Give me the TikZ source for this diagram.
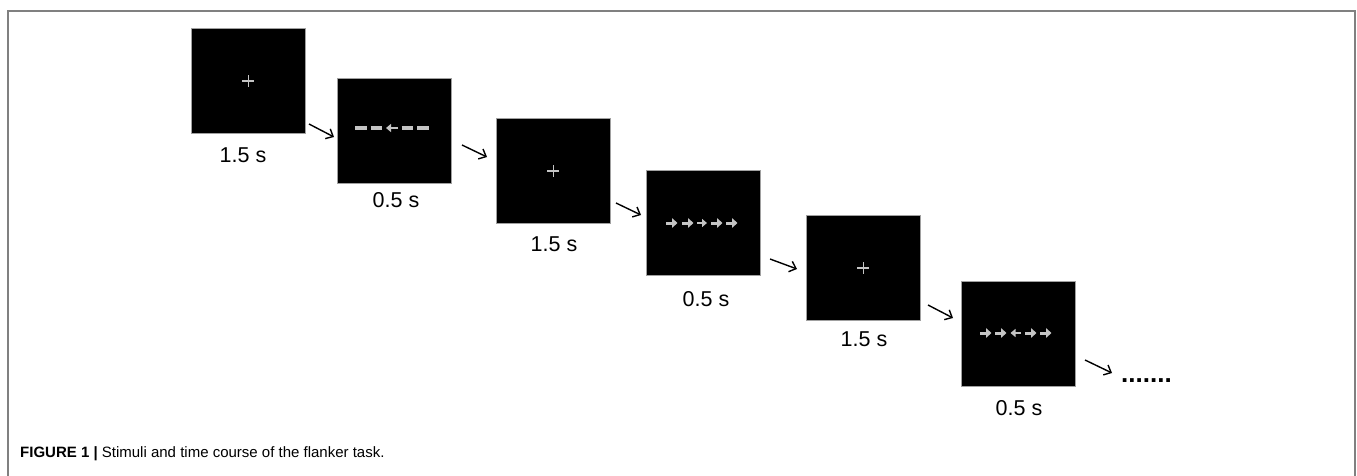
\documentclass[tikz,border=0pt]{standalone}
\usepackage{fontspec}
\setmainfont{Liberation Sans}
\usetikzlibrary{arrows.meta}
\definecolor{framegray}{HTML}{808080}
\definecolor{stimgray}{HTML}{C4C4C4}
\definecolor{boxedge}{HTML}{A0A0A0}
\begin{document}
\begin{tikzpicture}[x=1pt,y=-1pt,
  screen/.style={draw=boxedge, line width=0.8pt, fill=black, minimum width=114pt, minimum height=105pt, inner sep=0pt, anchor=north west},
  dur/.style={font=\fontsize{21.5}{25}\selectfont, anchor=base, inner sep=0pt},
  conn/.style={line width=1.4pt, -{Straight Barb[length=6pt,width=11pt]}},
  fixc/.style={stimgray, line width=1.4pt},
  dashc/.style={stimgray, line width=3.4pt},
  stimarr/.style={stimgray, line width=3pt, -{Triangle[length=5.5pt,width=9.5pt]}},
  smallarr/.style={stimgray, line width=2.2pt, -{Triangle[length=5pt,width=8pt]}}]
\useasboundingbox (0,0) rectangle (1357,476);
% frame
\draw[framegray, line width=1.6pt] (8,476) -- (8,11) -- (1355,11) -- (1355,476);
% screens
\node[screen] (b1) at (191,28) {};
\node[screen] (b2) at (337,78) {};
\node[screen] (b3) at (496,118) {};
\node[screen] (b4) at (646,170) {};
\node[screen] (b5) at (806,215) {};
\node[screen] (b6) at (961,281) {};
% durations
\node[dur] (t1) at (243,163) {1.5 s};
\node[dur] (t2) at (396,207) {0.5 s};
\node[dur] (t3) at (554,251) {1.5 s};
\node[dur] (t4) at (706,306) {0.5 s};
\node[dur] (t5) at (864,346) {1.5 s};
\node[dur] (t6) at (1019,415) {0.5 s};
% fixation crosses
\foreach \b in {b1,b3,b5}{
  \draw[fixc] ([xshift=-6pt]\b.center) -- ([xshift=6pt]\b.center);
  \draw[fixc] ([yshift=-6pt]\b.center) -- ([yshift=6pt]\b.center);
}
% box 2: - - <- - -
\draw[dashc] (355,128) -- (366.5,128);
\draw[dashc] (370.5,128) -- (382,128);
\draw[smallarr] (398,128) -- (386,128);
\draw[dashc] (401.5,128) -- (413,128);
\draw[dashc] (417,128) -- (428.5,128);
% box 4: -> -> -> -> ->
\draw[stimarr] (666,223) -- (677.5,223);
\draw[stimarr] (682,223) -- (693.5,223);
\draw[smallarr] (697,223) -- (707,223);
\draw[stimarr] (711,223) -- (722.5,223);
\draw[stimarr] (726,223) -- (737.5,223);
% box 6: -> -> <- -> ->
\draw[stimarr] (980,333) -- (991.5,333);
\draw[stimarr] (995,333) -- (1006.5,333);
\draw[smallarr] (1021,333) -- (1010.5,333);
\draw[stimarr] (1025,333) -- (1036.5,333);
\draw[stimarr] (1040,333) -- (1051.5,333);
% connectors
\coordinate (s1) at (309,124); \coordinate (e1) at (334,137);
\coordinate (s2) at (462,145); \coordinate (e2) at (487,157);
\coordinate (s3) at (616,203); \coordinate (e3) at (641,215);
\coordinate (s4) at (770,259); \coordinate (e4) at (797,269);
\coordinate (s5) at (928,305); \coordinate (e5) at (953,318);
\coordinate (s6) at (1085,360); \coordinate (e6) at (1112,373);
\foreach \i in {1,...,6}{\draw[conn] (s\i) -- (e\i);}
\node[anchor=base west, inner sep=0pt, font=\fontsize{26}{30}\selectfont\bfseries] (dots) at (1121,382) {.......};
% caption
\node[anchor=base west, inner sep=0pt, font=\fontsize{15}{18}\selectfont] (cap) at (20,457) {\textbf{FIGURE 1 |} Stimuli and time course of the flanker task.};
\end{tikzpicture}
\end{document}
